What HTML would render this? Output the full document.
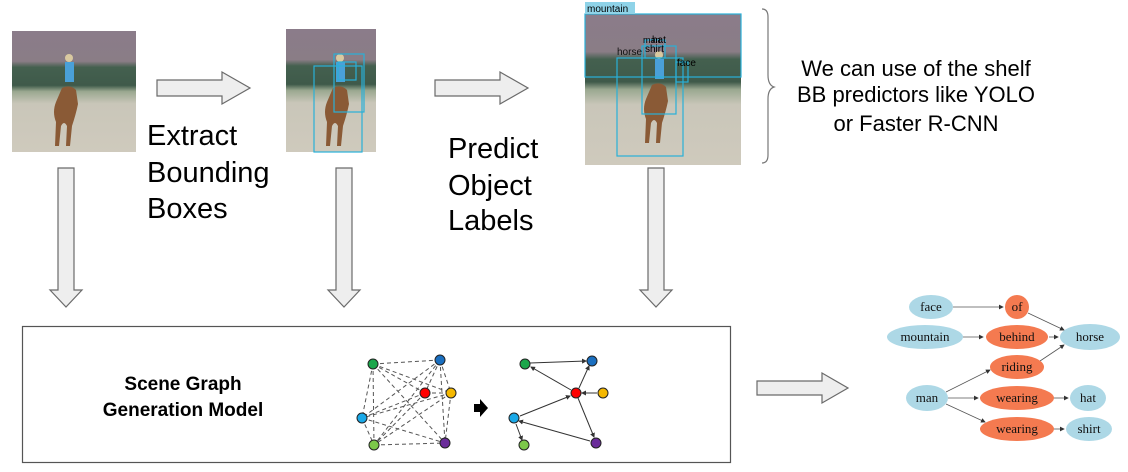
<!DOCTYPE html>
<html><head><meta charset="utf-8"><style>
body{margin:0;background:#fff;}
svg{display:block;font-family:"Liberation Sans",sans-serif;}
</style></head><body>
<svg width="1128" height="472" viewBox="0 0 1128 472">
<defs>
<linearGradient id="ph" x1="0" y1="0" x2="0" y2="1">
<stop offset="0" stop-color="#8b7c8a"/><stop offset="0.25" stop-color="#8a7d86"/>
<stop offset="0.3" stop-color="#44604f"/><stop offset="0.45" stop-color="#3f5a4a"/>
<stop offset="0.5" stop-color="#9aa890"/><stop offset="0.6" stop-color="#c9c6b9"/>
<stop offset="1" stop-color="#cfcabd"/></linearGradient>
<marker id="ah" markerWidth="6" markerHeight="6" refX="5" refY="3" orient="auto"><path d="M0,0L6,3L0,6z" fill="#333"/></marker>
<marker id="ah2" markerWidth="5" markerHeight="5" refX="4" refY="2.5" orient="auto"><path d="M0,0L5,2.5L0,5z" fill="#333"/></marker>
<g id="horse"><path d="M0,0 q8,-4 14,2 l2,14 q-2,10 -6,22 l-2,20 h-4 l1,-20 q-3,-6 -6,0 l-2,20 h-4 l1,-24 q-4,-10 0,-20z" fill="#8a5a36"/><rect x="3" y="-26" width="9" height="20" fill="#4aa0d8"/><circle cx="7" cy="-30" r="4" fill="#d9c9a0"/></g>
</defs>
<rect x="12" y="31" width="124" height="121" fill="url(#ph)"/>
<use href="#horse" x="62" y="88"/>
<rect x="286" y="29" width="90" height="123" fill="url(#ph)"/>
<use href="#horse" x="333" y="88"/>
<g fill="none" stroke="#29b0d8" stroke-width="1.2">
<rect x="314" y="66" width="48" height="86"/><rect x="334" y="54" width="30" height="58"/><rect x="286" y="79" width="90" height="0"/><rect x="338" y="62" width="18" height="18"/></g>
<rect x="585" y="14" width="156" height="151" fill="url(#ph)"/>
<use href="#horse" x="652" y="85"/>
<g fill="none" stroke="#29b0d8" stroke-width="1.2">
<rect x="585" y="14" width="156" height="63"/><rect x="617" y="58" width="66" height="98"/><rect x="642" y="46" width="34" height="68"/><rect x="645" y="40" width="20" height="18"/><rect x="676" y="62" width="12" height="20"/></g>
<rect x="585" y="2" width="50" height="12" fill="#8fd3e8"/>
<text x="587" y="12" font-size="10">mountain</text>
<text x="617" y="55" font-size="10" fill="#111">horse</text>
<text x="643" y="43" font-size="9">man</text><text x="652" y="43" font-size="10">hat</text>
<text x="645" y="52" font-size="10">shirt</text><text x="677" y="66" font-size="10">face</text>
<g fill="#eeeeee" stroke="#6a6a6a" stroke-width="1.2">
<path d="M157,80 H222 V72 L250,88 L222,104 V96 H157Z"/>
<path d="M435,80 H500 V72 L528,88 L500,104 V96 H435Z"/>
<path d="M757,381 H822 V373 L848,388 L822,403 V395 H757Z"/>
<path d="M58,168 H74 V290 H82 L66,307 L50,290 H58Z"/>
<path d="M336,168 H352 V290 H360 L344,307 L328,290 H336Z"/>
<path d="M648,168 H664 V290 H672 L656,307 L640,290 H648Z"/>
</g>
<g font-size="29" fill="#000">
<text x="147" y="145">Extract</text><text x="147" y="182">Bounding</text><text x="147" y="218">Boxes</text>
<text x="448" y="158">Predict</text><text x="448" y="195">Object</text><text x="448" y="230">Labels</text>
</g>
<path d="M762,9 q6,0 6,8 v58 q0,10 6,12 q-6,2 -6,12 v56 q0,8 -6,8" fill="none" stroke="#777" stroke-width="1.2"/>
<g font-size="22" text-anchor="middle"><text x="916" y="76">We can use of the shelf</text><text x="916" y="102">BB predictors like YOLO</text><text x="916" y="131">or Faster R-CNN</text></g>
<rect x="22.5" y="326.5" width="708" height="136" fill="#fff" stroke="#555" stroke-width="1.2"/>
<g font-size="19" font-weight="bold" text-anchor="middle"><text x="183" y="390">Scene Graph</text><text x="183" y="416">Generation Model</text></g>
<g stroke="#555" stroke-dasharray="4,3" stroke-width="1">
<path d="M373,364L440,360M373,364L425,393M373,364L451,393M373,364L362,418M373,364L374,445M373,364L445,443M440,360L425,393M440,360L451,393M440,360L362,418M440,360L374,445M440,360L445,443M425,393L451,393M425,393L362,418M425,393L374,445M451,393L362,418M451,393L374,445M451,393L445,443M362,418L374,445M362,418L445,443M374,445L445,443"/></g>
<path d="M474,404h6v-5l8,9-8,9v-5h-6z" fill="#000"/>
<g stroke="#333" stroke-width="1" fill="none" marker-end="url(#ah2)">
<path d="M530,363L586,361"/><path d="M571,390L531,367"/><path d="M579,388L589,366"/><path d="M597,393L582,393"/><path d="M520,416L570,396"/><path d="M578,398L594,437"/><path d="M590,441L519,421"/><path d="M516,424L522,440"/></g>
<g stroke="#222" stroke-width="1">
<circle cx="373" cy="364" r="5" fill="#1aa64a"/><circle cx="440" cy="360" r="5" fill="#1a6fc0"/><circle cx="425" cy="393" r="5" fill="#f00"/><circle cx="451" cy="393" r="5" fill="#f5b800"/><circle cx="362" cy="418" r="5" fill="#1aa9e8"/><circle cx="374" cy="445" r="5" fill="#7cc84a"/><circle cx="445" cy="443" r="5" fill="#6a2c9a"/>
<circle cx="525" cy="364" r="5" fill="#1aa64a"/><circle cx="592" cy="361" r="5" fill="#1a6fc0"/><circle cx="576" cy="393" r="5" fill="#f00"/><circle cx="603" cy="393" r="5" fill="#f5b800"/><circle cx="514" cy="418" r="5" fill="#1aa9e8"/><circle cx="524" cy="445" r="5" fill="#7cc84a"/><circle cx="596" cy="443" r="5" fill="#6a2c9a"/></g>
<g stroke="#555" stroke-width="0.8" fill="none" marker-end="url(#ah)">
<path d="M953,307H1003"/><path d="M1028,313L1064,330"/><path d="M963,337H983"/><path d="M1049,337H1058"/><path d="M1040,361L1064,345"/>
<path d="M946,392L990,370"/><path d="M948,398H978"/><path d="M946,404L985,422"/><path d="M1054,398H1068"/><path d="M1054,429H1064"/></g>
<g fill="#add8e6"><ellipse cx="931" cy="307" rx="22" ry="12"/><ellipse cx="925" cy="337" rx="38" ry="12"/><ellipse cx="1090" cy="337" rx="30" ry="13"/><ellipse cx="927" cy="398" rx="21" ry="13"/><ellipse cx="1088" cy="398" rx="18" ry="13"/><ellipse cx="1089" cy="429" rx="23" ry="12"/></g>
<g fill="#f47a50"><ellipse cx="1017" cy="307" rx="12" ry="12"/><ellipse cx="1017" cy="337" rx="31" ry="12"/><ellipse cx="1017" cy="367" rx="27" ry="12"/><ellipse cx="1017" cy="398" rx="37" ry="12"/><ellipse cx="1017" cy="429" rx="37" ry="12"/></g>
<g font-family="'Liberation Serif',serif" font-size="13" text-anchor="middle" fill="#111">
<text x="931" y="311">face</text><text x="1017" y="311">of</text><text x="925" y="341">mountain</text><text x="1017" y="341">behind</text><text x="1090" y="341">horse</text><text x="1017" y="371">riding</text><text x="927" y="402">man</text><text x="1017" y="402">wearing</text><text x="1088" y="402">hat</text><text x="1017" y="433">wearing</text><text x="1089" y="433">shirt</text></g>
</svg>
</body></html>
